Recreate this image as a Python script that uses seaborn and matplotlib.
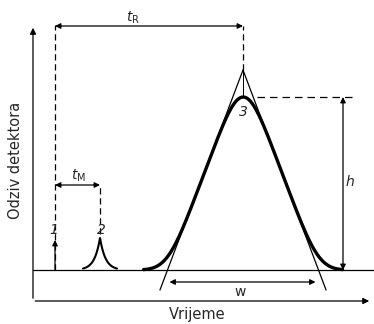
import numpy as np
import pandas as pd
import matplotlib
matplotlib.use("Agg")
import matplotlib.pyplot as plt
import seaborn as sns

# --- data (time units ~ arbitrary, signal units arbitrary) ---
peak_labels = ["1", "2", "3"]
peak_times = [0.0, 45.0, 188.0]      # injection (1), unretained (2), analyte (3)
peak_heights = [0.0, 32.0, 173.0]
peak2_tau = 5.5                      # cusp decay of peak 2
tangent_apex = 200.0                 # where the inflection tangents of peak 3 meet
tangent_halfbase = 75.5              # half of w (tangent baseline intercepts)
peak3_round = 12.8                   # rounding of peak 3 top/foot
axis_labels = ["Vrijeme", "Odziv detektora"]
dim_labels = ["t_R", "t_M", "h", "w"]

sns.set_style("white")
plt.rcParams["font.family"] = ["DejaVu Sans"]

fig = plt.figure(figsize=(3.74, 3.24), dpi=100)
ax = fig.add_axes([0, 0, 1, 1])
ax.set_xlim(-55, 319)
ax.set_ylim(-54, 270)
ax.axis("off")

tr, h = peak_times[2], peak_heights[2]

# peak 2: narrow cusp
t2 = np.linspace(peak_times[1] - 17, peak_times[1] + 17, 201)
s2 = peak_heights[1] * np.exp(-np.abs(t2 - peak_times[1]) / peak2_tau)
# peak 3: tangent triangle rounded by a Gaussian kernel
dt = 0.5
tt = np.arange(tr - 150, tr + 150 + dt, dt)
tri = np.clip(tangent_apex * (1 - np.abs(tt - tr) / tangent_halfbase), 0, None)
kx = np.arange(-4 * peak3_round, 4 * peak3_round + dt, dt)
kern = np.exp(-0.5 * (kx / peak3_round) ** 2)
kern /= kern.sum()
s3 = np.convolve(tri, kern, mode="same")
m = (tt > tr - 100) & (tt < tr + 100)
df2 = pd.DataFrame({"t": t2, "s": s2})
df3 = pd.DataFrame({"t": tt[m], "s": s3[m]})
sns.lineplot(data=df2, x="t", y="s", ax=ax, color="black", lw=1.5, sort=False)
sns.lineplot(data=df3, x="t", y="s", ax=ax, color="black", lw=2.4, sort=False)

k = "black"
thin = 0.9

# axes frame
ax.annotate("", xy=(-22, 245), xytext=(-22, -31),
            arrowprops=dict(arrowstyle="-|>", color=k, lw=thin, mutation_scale=9))
ax.annotate("", xy=(317, -31), xytext=(-22.5, -31),
            arrowprops=dict(arrowstyle="-|>", color=k, lw=thin, mutation_scale=9))
ax.plot([-22, 319], [0, 0], color=k, lw=thin)

# tangents
slope = tangent_apex / tangent_halfbase
for sgn in (-1, 1):
    xs = np.array([tr, tr + sgn * (tangent_apex + 20) / slope])
    ys = tangent_apex - slope * np.abs(xs - tr)
    ax.plot(xs, ys, color=k, lw=thin)
ax.plot([tr, tr], [h, tangent_apex], color=k, lw=0.7)

# dashed guides
ax.plot([0, 0], [0, 245], color=k, lw=thin, ls=(0, (5, 3)))
ax.plot([tr, tr], [tangent_apex, 244], color=k, lw=thin, ls=(0, (5, 3)))
ax.plot([peak_times[1], peak_times[1]], [peak_heights[1] + 4, 85], color=k, lw=thin, ls=(0, (5, 3)))
ax.plot([tr + 14, 297], [h, h], color=k, lw=thin, ls=(0, (6, 4)))

# dimension arrows
aps = dict(arrowstyle="<|-|>", color=k, lw=thin, mutation_scale=8, shrinkA=0, shrinkB=0)
ax.annotate("", xy=(0, 244), xytext=(tr, 244), arrowprops=aps)
ax.annotate("", xy=(0, 85), xytext=(peak_times[1], 85), arrowprops=aps)
ax.annotate("", xy=(288, h), xytext=(288, 0), arrowprops=aps)
wl, wr = tr - tangent_halfbase + 2, tr + tangent_halfbase - 3
ax.annotate("", xy=(wl, -12), xytext=(wr, -12), arrowprops=aps)
ax.annotate("", xy=(0, 30), xytext=(0, 0),
            arrowprops=dict(arrowstyle="-|>", color=k, lw=thin, mutation_scale=8, shrinkA=0, shrinkB=0))

# labels
fs = 10
ax.text(78, 248, r"$t_{\rm R}$", ha="center", va="baseline", fontsize=fs)
ax.text(23, 90, r"$t_{\rm M}$", ha="center", va="baseline", fontsize=fs)
ax.text(-1, 40, peak_labels[0], ha="center", va="center", fontsize=fs, style="italic")
ax.text(peak_times[1] + 1, 40, peak_labels[1], ha="center", va="center", fontsize=fs, style="italic")
ax.text(tr, 158, peak_labels[2], ha="center", va="center", fontsize=fs, style="italic")
ax.text(295, 88, dim_labels[2], ha="center", va="center", fontsize=fs, style="italic")
ax.text(185, -22, dim_labels[3], ha="center", va="center", fontsize=fs)
ax.text(142, -44, axis_labels[0], ha="center", va="center", fontsize=10.5)
ax.text(-40, 110, axis_labels[1], ha="center", va="center", fontsize=10.5, rotation=90)

fig.savefig("out.png", dpi=100)
